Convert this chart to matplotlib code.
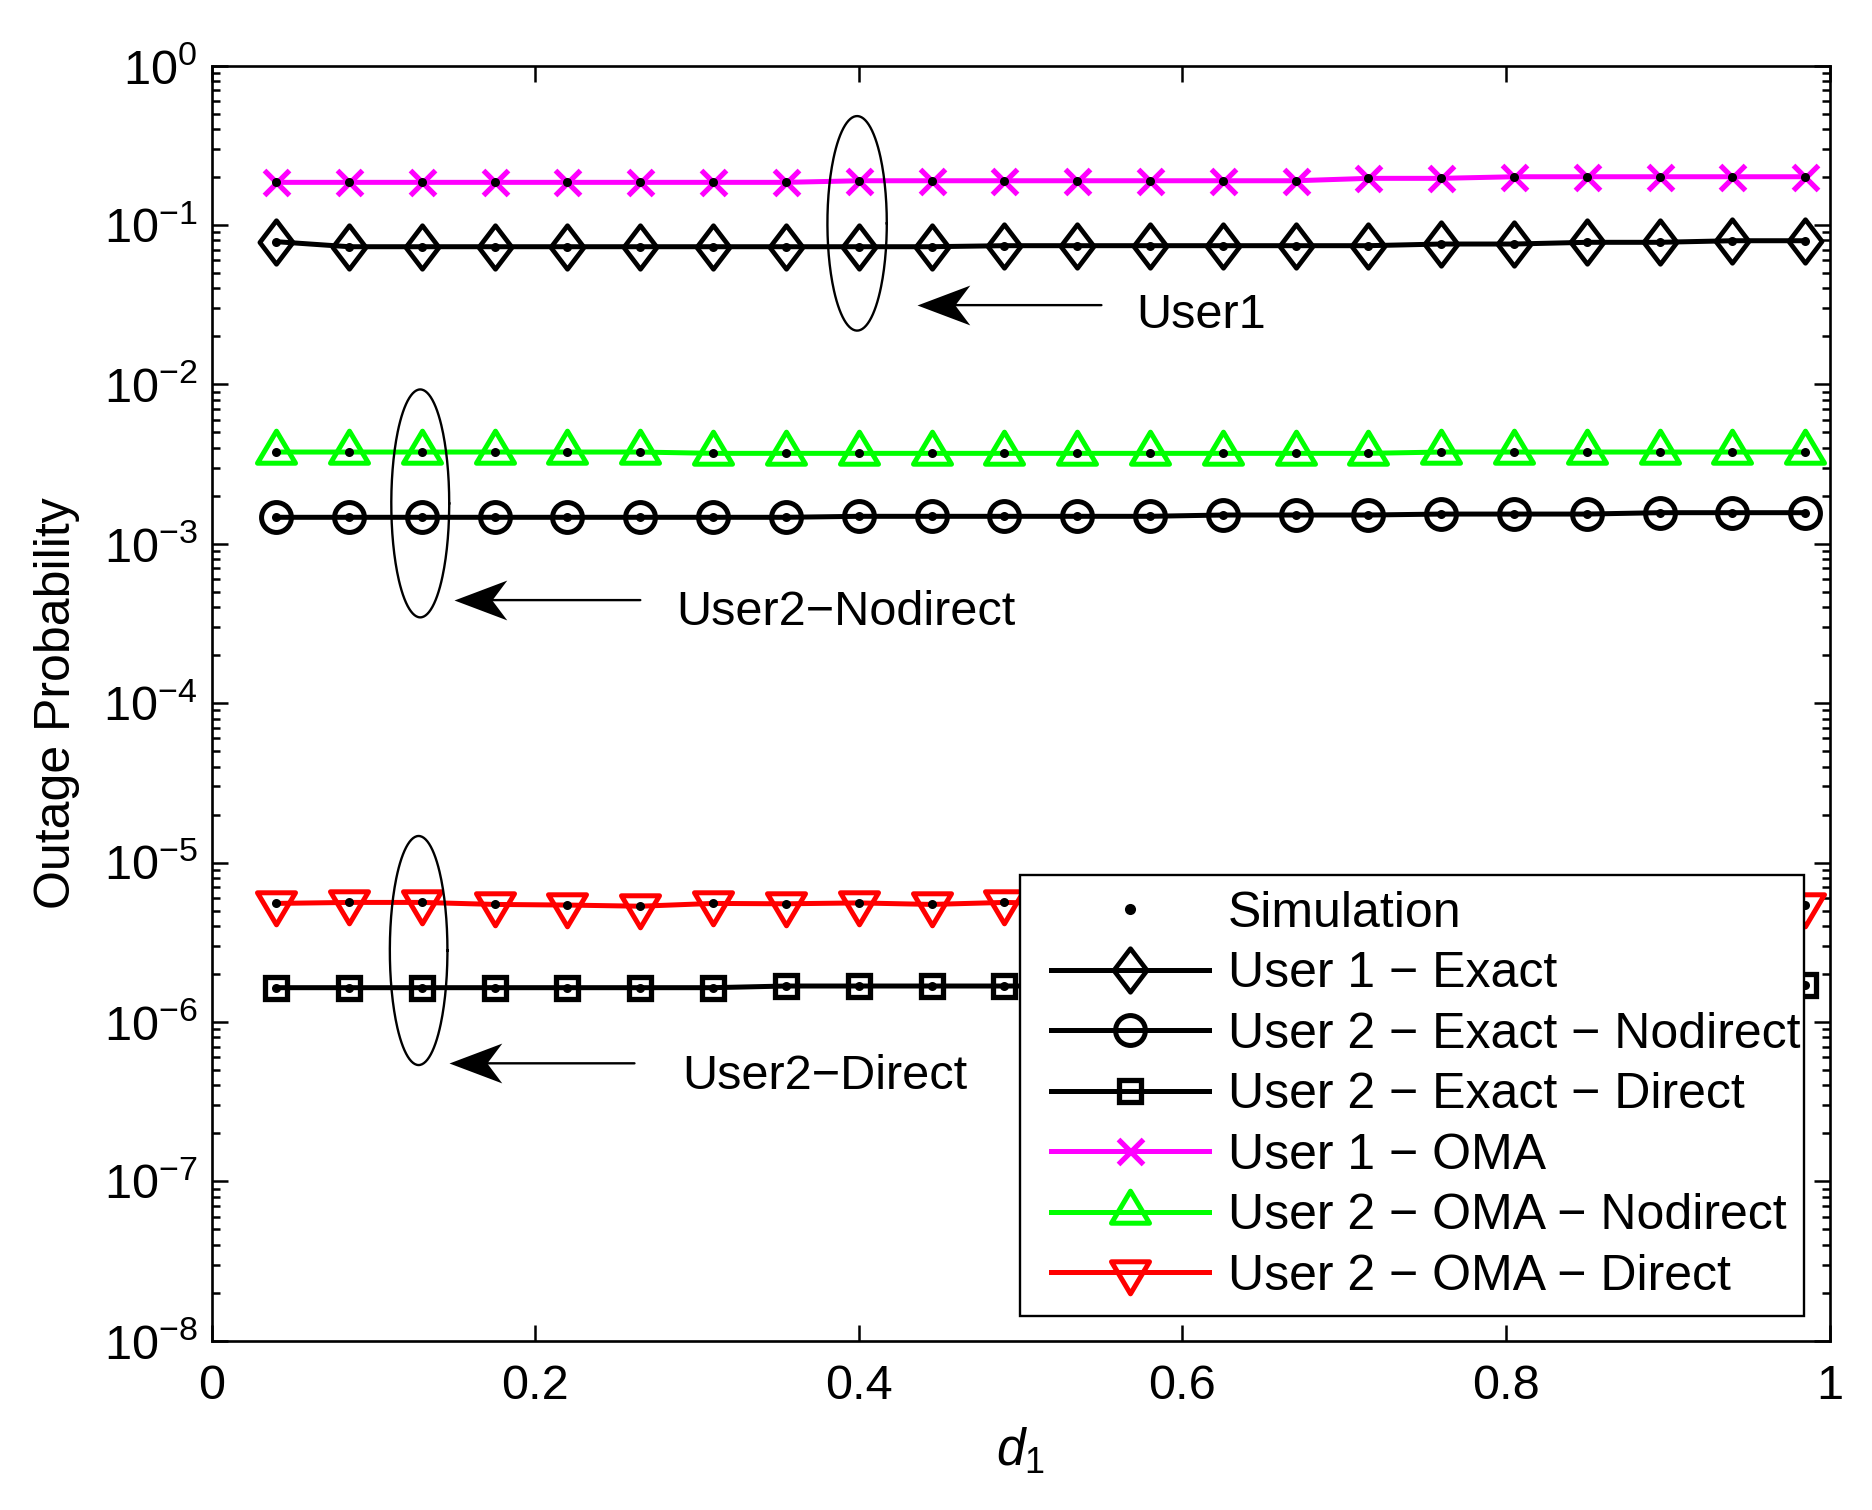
import matplotlib
matplotlib.use("Agg")
import matplotlib.pyplot as plt
import numpy as np
from matplotlib.path import Path
from matplotlib.lines import Line2D
from matplotlib.legend_handler import HandlerLine2D
from matplotlib.ticker import LogLocator, NullFormatter, FuncFormatter

plt.rcParams["font.family"] = ["Liberation Sans", "DejaVu Sans"]
plt.rcParams["mathtext.fontset"] = "custom"
plt.rcParams["mathtext.rm"] = "Liberation Sans"
plt.rcParams["mathtext.it"] = "Liberation Sans:italic"
plt.rcParams["axes.unicode_minus"] = True

FS = 35
LEG_FS = 36

# ---- data ----
d1 = [0.04, 0.085, 0.13, 0.175, 0.22, 0.265, 0.31, 0.355, 0.40, 0.445, 0.49,
      0.535, 0.58, 0.625, 0.67, 0.715, 0.76, 0.805, 0.85, 0.895, 0.94, 0.985]

user1_exact = [0.0785, 0.0730, 0.0730, 0.0730, 0.0730, 0.0730, 0.0730, 0.0730,
               0.0730, 0.0730, 0.0741, 0.0741, 0.0741, 0.0741, 0.0741, 0.0741,
               0.0759, 0.0759, 0.0778, 0.0778, 0.0796, 0.0796]
user2_exact_nodirect = [1.465e-3, 1.465e-3, 1.465e-3, 1.465e-3, 1.465e-3, 1.465e-3,
                        1.465e-3, 1.465e-3, 1.486e-3, 1.486e-3, 1.486e-3, 1.486e-3,
                        1.486e-3, 1.514e-3, 1.514e-3, 1.514e-3, 1.535e-3, 1.535e-3,
                        1.535e-3, 1.566e-3, 1.566e-3, 1.566e-3]
user2_exact_direct = [1.64e-6, 1.64e-6, 1.64e-6, 1.64e-6, 1.64e-6, 1.64e-6,
                      1.64e-6, 1.68e-6, 1.68e-6, 1.68e-6, 1.68e-6, 1.68e-6,
                      1.69e-6, 1.69e-6, 1.69e-6, 1.70e-6, 1.70e-6, 1.70e-6,
                      1.71e-6, 1.71e-6, 1.71e-6, 1.71e-6]
user1_oma = [0.185, 0.185, 0.185, 0.185, 0.185, 0.185, 0.185, 0.185,
             0.1893, 0.1893, 0.1893, 0.1893, 0.1893, 0.1893, 0.1893,
             0.196, 0.196, 0.2006, 0.2006, 0.2006, 0.2006, 0.2006]
user2_oma_nodirect = [3.76e-3, 3.76e-3, 3.76e-3, 3.76e-3, 3.76e-3, 3.76e-3,
                      3.69e-3, 3.69e-3, 3.69e-3, 3.69e-3, 3.69e-3, 3.69e-3,
                      3.69e-3, 3.69e-3, 3.69e-3, 3.69e-3, 3.76e-3, 3.76e-3,
                      3.76e-3, 3.76e-3, 3.76e-3, 3.76e-3]
user2_oma_direct = [5.54e-6, 5.62e-6, 5.62e-6, 5.46e-6, 5.41e-6, 5.32e-6,
                    5.54e-6, 5.51e-6, 5.58e-6, 5.46e-6, 5.62e-6, 5.50e-6,
                    5.48e-6, 5.52e-6, 5.47e-6, 5.50e-6, 5.45e-6, 5.52e-6,
                    5.48e-6, 5.50e-6, 5.46e-6, 5.45e-6]

labels = ["User 1 \u2212 Exact", "User 2 \u2212 Exact \u2212 Nodirect",
          "User 2 \u2212 Exact \u2212 Direct", "User 1 \u2212 OMA",
          "User 2 \u2212 OMA \u2212 Nodirect", "User 2 \u2212 OMA \u2212 Direct"]

# annotations: (ellipse centre x, centre log10 y, width in x, height in decades)
ellipses = [(0.399, -0.99, 0.0367, 1.346),
            (0.129, -2.747, 0.0358, 1.43),
            (0.128, -5.552, 0.0356, 1.437)]
# arrows: tip x, tail x, y ; text: x, y, string
arrows = [(0.436, 0.550, 0.0314), (0.150, 0.265, 4.43e-4), (0.147, 0.2614, 5.5e-7)]
notes = [(0.5717, 0.02245, "User1"),
         (0.287, 3.09e-4, "User2\u2212Nodirect"),
         (0.291, 3.8e-7, "User2\u2212Direct")]

# ---- MATLAB-like marker shapes ----
def closed(v):
    return Path(v + [v[0]], closed=True)

diamond = closed([(0, 21.8), (16.6, 0), (0, -21.8), (-16.6, 0)])
tri_up = closed([(0, 21.3), (-19, -10.7), (19, -10.7)])
tri_down = closed([(0, -21.3), (-19, 10.7), (19, 10.7)])
head = closed([(0, 0), (53, 20), (38, 0), (53, -20)])

fig = plt.figure(figsize=(18.72, 15.10), dpi=100)
ax = fig.add_axes([0.113, 0.1121, 0.9773 - 0.113, 0.9566 - 0.1121])

lw = 3.6
styles = [
    dict(color="k", marker=diamond, ms=31.4, mew=3.4),
    dict(color="k", marker="o", ms=21.5, mew=3.6),
    dict(color="k", marker="s", ms=16.5, mew=3.8),
    dict(color="#FF00FF", marker="x", ms=18, mew=3.8),
    dict(color="#00FF00", marker=tri_up, ms=30.7, mew=3.6),
    dict(color="#FF0000", marker=tri_down, ms=30.7, mew=3.6),
]
series = [user1_exact, user2_exact_nodirect, user2_exact_direct,
          user1_oma, user2_oma_nodirect, user2_oma_direct]

handles = []
for ys, st, lab in zip(series, styles, labels):
    h, = ax.plot(d1, ys, lw=lw, mfc="none", label=lab, **st)
    handles.append(h)
for ys in series:
    ax.plot(d1, ys, ls="none", marker=".", color="k", ms=13, mew=0, zorder=3)

sim = Line2D([], [], ls="none", marker=".", color="k", ms=16, mew=0)

ax.set_yscale("log")
ax.set_xlim(0, 1)
ax.set_ylim(1e-8, 1)

# ellipses and arrows
t = np.linspace(0, 2 * np.pi, 200)
for cx, cy, w, h in ellipses:
    ax.plot(cx + w / 2 * np.cos(t), 10 ** (cy + h / 2 * np.sin(t)), color="k", lw=1.7, zorder=4)
for tip, tail, y in arrows:
    ax.annotate("", xy=(tip + 0.02, y), xytext=(tail, y),
                arrowprops=dict(arrowstyle="-", lw=1.7, color="k", shrinkA=0, shrinkB=0))
    ax.plot(tip, y, marker=head, ms=76, color="k", mew=0, zorder=5)
for x, y, s in notes:
    ax.text(x, y, s, fontsize=FS, ha="left", va="baseline")

ax.xaxis.set_major_locator(plt.MultipleLocator(0.2))
ax.xaxis.set_major_formatter(FuncFormatter(lambda v, p: "%g" % v))
ax.yaxis.set_major_locator(LogLocator(base=10, numticks=20))
ax.yaxis.set_minor_locator(LogLocator(base=10, subs=np.arange(2, 10), numticks=100))
ax.yaxis.set_minor_formatter(NullFormatter())

ax.tick_params(which="both", direction="in", top=True, right=True, width=1.8, labelsize=FS)
ax.tick_params(which="major", length=11.5)
ax.tick_params(which="minor", length=6)
ax.tick_params(axis="x", pad=17)
ax.tick_params(axis="y", pad=10)
for sp in ax.spines.values():
    sp.set_linewidth(1.9)

ax.set_xlabel(r"$\mathit{d}_{\mathit{1}}$", fontsize=FS + 2)
ax.xaxis.set_label_coords(0.5, -0.067)
ax.set_ylabel("Outage Probability", fontsize=36)
ax.yaxis.set_label_coords(-0.081, 0.5)

leg = ax.legend([sim] + handles, ["Simulation"] + labels, loc="lower left",
                bbox_to_anchor=(0.4997, 0.0194, 0.4843, 0.3482), mode="expand",
                fontsize=LEG_FS, numpoints=1, handlelength=3.46, handletextpad=0.38,
                labelspacing=0.29, borderpad=0.32, borderaxespad=0,
                handler_map={Line2D: HandlerLine2D(xpad=0.3)},
                fancybox=False, framealpha=1, edgecolor="k")
leg.get_frame().set_linewidth(1.7)
leg.set_zorder(10)

fig.savefig("out.png", dpi=100)
